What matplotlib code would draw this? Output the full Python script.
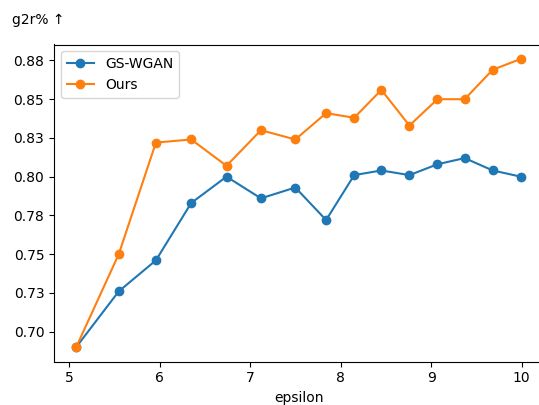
import matplotlib
matplotlib.use("Agg")
import matplotlib.pyplot as plt
import numpy as np

# epsilon values and scores
epsilon = [5.08, 5.55, 5.96, 6.35, 6.74, 7.12, 7.5, 7.84, 8.15,
           8.45, 8.76, 9.07, 9.37, 9.68, 9.99]
gs_wgan = [0.690, 0.726, 0.746, 0.783, 0.800, 0.786, 0.793, 0.772, 0.801,
           0.804, 0.801, 0.808, 0.812, 0.804, 0.800]
ours = [0.690, 0.750, 0.822, 0.824, 0.807, 0.830, 0.824, 0.841, 0.838,
        0.856, 0.833, 0.850, 0.850, 0.869, 0.876]

y_ticks = [0.700, 0.725, 0.750, 0.775, 0.800, 0.825, 0.850, 0.875]
y_tick_labels = ["0.70", "0.73", "0.75", "0.78", "0.80", "0.83", "0.85", "0.88"]
x_ticks = [5, 6, 7, 8, 9, 10]


def main():
    fig = plt.figure(figsize=(5.39, 4.05), dpi=100)
    # right edge of the axes falls outside the canvas, as in the reference
    ax = fig.add_axes([54 / 539, (405 - 361.5) / 405, 489 / 539, 317 / 405])

    ax.plot(epsilon, gs_wgan, marker="o", label="GS-WGAN")
    ax.plot(epsilon, ours, marker="o", label="Ours")

    ax.spines["right"].set_visible(False)

    ax.set_xticks(x_ticks)
    ax.set_yticks(y_ticks)
    ax.set_yticklabels(y_tick_labels)
    ax.set_xlabel("epsilon")
    ax.legend(loc="upper left")

    fig.text(12 / 539, 1 - 20 / 405, "g2r% \u2191", ha="left", va="center", fontsize=10)

    fig.savefig("out.png", dpi=100)


if __name__ == "__main__":
    main()
